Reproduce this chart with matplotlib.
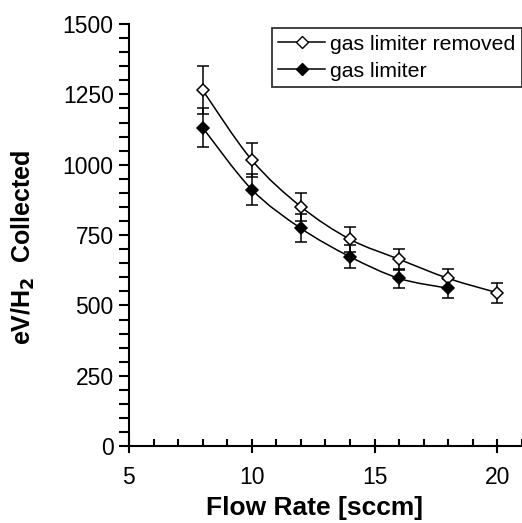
import numpy as np
from matplotlib import pyplot as plt
from matplotlib.path import Path
from matplotlib.patches import PathPatch
from matplotlib.ticker import MultipleLocator

plt.rcParams['font.family'] = ['Liberation Sans', 'DejaVu Sans']

# data
flow_removed = [8, 10, 12, 14, 16, 18, 20]
ev_removed = [1265, 1017, 851, 735, 664, 596, 545]
err_removed = [85, 62, 50, 45, 38, 35, 35]

flow_limiter = [8, 10, 12, 14, 16, 18]
ev_limiter = [1132, 912, 774, 673, 596, 561]
err_limiter = [68, 56, 50, 40, 35, 33]


def smooth_path(x, y, t=0.5 / 3):
    # excel-like smoothed line: cubic bezier through the points
    x = np.asarray(x, float)
    y = np.asarray(y, float)
    verts = [(x[0], y[0])]
    codes = [Path.MOVETO]
    n = len(x)
    for i in range(n - 1):
        p0 = (x[max(i - 1, 0)], y[max(i - 1, 0)])
        p1 = (x[i], y[i])
        p2 = (x[i + 1], y[i + 1])
        p3 = (x[min(i + 2, n - 1)], y[min(i + 2, n - 1)])
        c1 = (p1[0] + (p2[0] - p0[0]) * t, p1[1] + (p2[1] - p0[1]) * t)
        c2 = (p2[0] - (p3[0] - p1[0]) * t, p2[1] - (p3[1] - p1[1]) * t)
        verts += [c1, c2, p2]
        codes += [Path.CURVE4] * 3
    return Path(verts, codes)


fig = plt.figure(figsize=(5.22, 5.23), dpi=100)
ax = fig.add_axes([0.247, 0.147, 0.753, 0.807])

lw = 1.1
for fx, fy, fe, fc in [(flow_removed, ev_removed, err_removed, 'white'),
                       (flow_limiter, ev_limiter, err_limiter, 'black')]:
    ax.add_patch(PathPatch(smooth_path(fx, fy), facecolor='none', edgecolor='black', lw=lw, zorder=2))
    ax.errorbar(fx, fy, yerr=fe, fmt='none', ecolor='black', elinewidth=lw, capsize=4.5, capthick=lw, zorder=3)
    ax.plot(fx, fy, linestyle='none', marker='D', ms=6.5, mfc=fc, mec='black', mew=1.1, zorder=4)

# legend handles with line
h1, = ax.plot([], [], '-', color='black', lw=lw, marker='D', ms=6, mfc='white', mec='black')
h2, = ax.plot([], [], '-', color='black', lw=lw, marker='D', ms=6, mfc='black', mec='black')
leg = ax.legend([h1, h2], ['gas limiter removed', 'gas limiter'], loc='upper right',
                bbox_to_anchor=(1.0, 0.99), fontsize=15.3, frameon=True, fancybox=False,
                edgecolor='black', handlelength=2.2, handletextpad=0.25, borderpad=0.3,
                labelspacing=0.38, borderaxespad=0.0)
leg.get_frame().set_linewidth(1.3)

ax.set_xlim(5, 21)
ax.set_ylim(0, 1500)
ax.xaxis.set_major_locator(MultipleLocator(5))
ax.xaxis.set_minor_locator(MultipleLocator(1))
ax.yaxis.set_major_locator(MultipleLocator(250))
ax.yaxis.set_minor_locator(MultipleLocator(50))

ax.spines['top'].set_visible(False)
ax.spines['right'].set_visible(False)
ax.spines['left'].set_linewidth(1.5)
ax.spines['bottom'].set_linewidth(1.5)
ax.spines['left'].set_zorder(5)

ax.tick_params(axis='y', which='both', direction='out', length=7, width=1.5, labelsize=16.5, pad=4)
ax.tick_params(axis='x', which='major', direction='inout', length=10, width=1.5, labelsize=16.5, pad=9)
ax.tick_params(axis='x', which='minor', direction='in', length=5, width=1.5)

ax.set_xlabel('Flow Rate [sccm]', fontsize=19, fontweight='bold')
ax.xaxis.set_label_coords(0.473, -0.118)
ax.set_ylabel('eV/H$_\\mathbf{2}$  Collected', fontsize=18, fontweight='bold')
ax.yaxis.set_label_coords(-0.233, 0.47)

fig.savefig('out.png', dpi=100)
